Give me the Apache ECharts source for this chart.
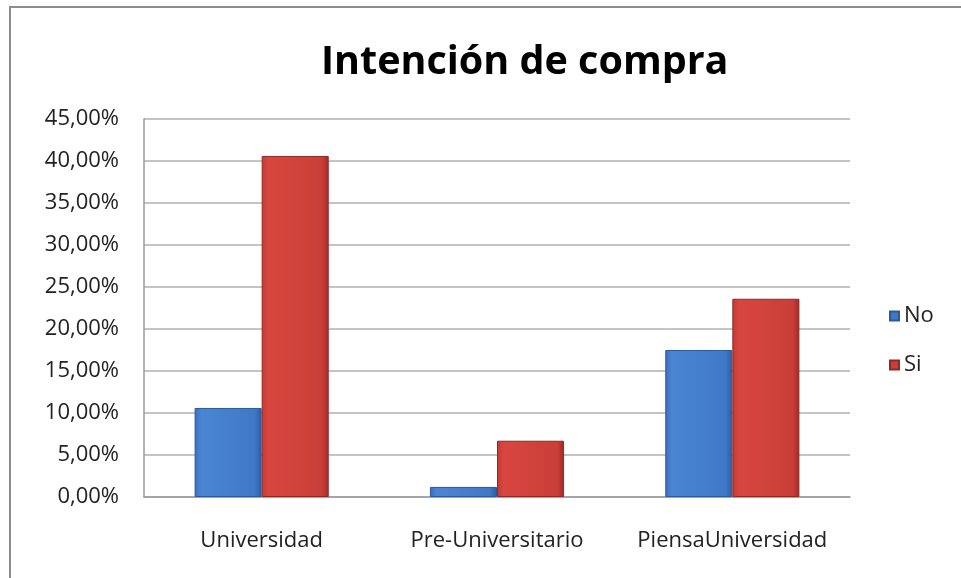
<!DOCTYPE html>
<html><head><meta charset="utf-8">
<script src="https://cdn.jsdelivr.net/npm/echarts@6/dist/echarts.min.js"></script>
<style>html,body{margin:0;padding:0;background:#fff}#c{width:961px;height:578px}</style>
</head><body><div id="c"></div>
<script>
const categories = ['Universidad', 'Pre-Universitario', 'PiensaUniversidad'];
const seriesNo = [10.6, 1.2, 17.5];
const seriesSi = [40.6, 6.7, 23.6];
const yTicks = [0, 5, 10, 15, 20, 25, 30, 35, 40, 45];

const chart = echarts.init(document.getElementById('c'));
const blue = new echarts.graphic.LinearGradient(0, 0, 1, 0, [
  {offset: 0, color: '#3a70bd'}, {offset: 0.1, color: '#4a86d4'}, {offset: 0.9, color: '#3f78c6'}, {offset: 1, color: '#2a5ca3'}]);
const red = new echarts.graphic.LinearGradient(0, 0, 1, 0, [
  {offset: 0, color: '#c23a35'}, {offset: 0.1, color: '#d8473f'}, {offset: 0.9, color: '#c93e39'}, {offset: 1, color: '#a02a26'}]);
chart.setOption({
  animation: false,
  textStyle: {fontFamily: 'Open Sans'},
  graphic: [{type: 'rect', shape: {x: 10, y: 7, width: 1000, height: 620},
    style: {fill: 'none', stroke: '#8c8c8c', lineWidth: 2}}],
  title: {text: 'Intención de compra', left: 316, top: 38,
    textStyle: {fontSize: 39.5, fontWeight: 'bold', color: '#000', fontFamily: 'Open Sans'}},
  legend: {orient: 'vertical', left: 884, top: 300, itemWidth: 9, itemHeight: 9, itemGap: 27,
    icon: 'rect', textStyle: {fontSize: 22, color: '#222'},
    data: [{name: 'No', itemStyle: {color: '#3f78c6'}}, {name: 'Si', itemStyle: {color: '#c93e39'}}]},
  grid: {left: 144, right: 111, top: 119, bottom: 81, containLabel: false},
  xAxis: {type: 'category', data: categories,
    axisLine: {lineStyle: {color: '#9a9a9a', width: 1.5}}, axisTick: {show: false},
    axisLabel: {fontSize: 22, color: '#222', margin: 33, interval: 0, hideOverlap: false}},
  yAxis: {type: 'value', min: 0, max: 45, interval: 5,
    axisLine: {show: true, lineStyle: {color: '#9a9a9a', width: 1.5}}, axisTick: {show: false},
    splitLine: {lineStyle: {color: '#b0b0b0', width: 1.5}},
    axisLabel: {fontSize: 22, color: '#222', margin: 25,
      formatter: v => yTicks.includes(v) ? v.toFixed(2).replace('.', ',') + '%' : ''}},
  series: [
    {name: 'No', type: 'bar', data: seriesNo, barGap: '0%', barCategoryGap: '43%',
      itemStyle: {color: blue, borderColor: '#2a5a9c', borderWidth: 1}},
    {name: 'Si', type: 'bar', data: seriesSi,
      itemStyle: {color: red, borderColor: '#8e2a26', borderWidth: 1}}
  ]
});
</script></body></html>
